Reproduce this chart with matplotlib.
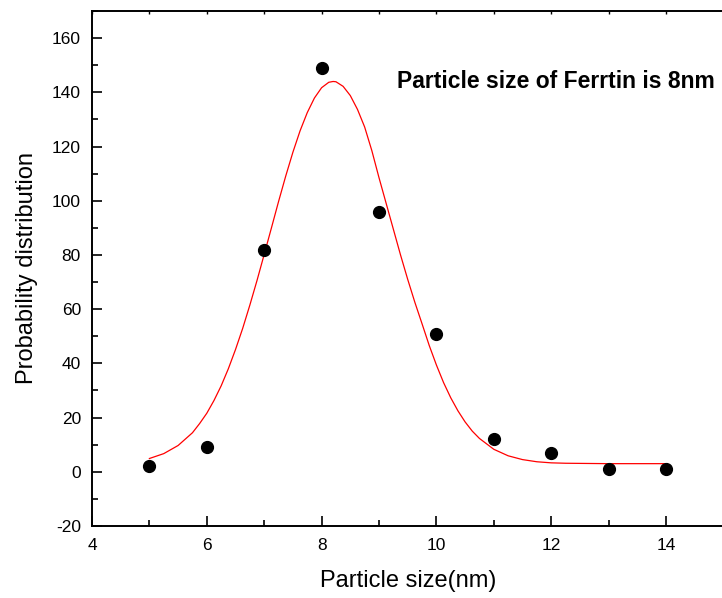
import matplotlib
matplotlib.use("Agg")
import matplotlib.pyplot as plt

plt.rcParams['font.family'] = ['Liberation Sans', 'DejaVu Sans']
plt.rcParams['axes.unicode_minus'] = False

# measured points
size_nm = [5, 6, 7, 8, 9, 10, 11, 12, 13, 14]
counts = [2, 9, 82, 149, 96, 51, 12, 7, 1, 1]

# gaussian fit curve
fit_x = [5.0, 5.25, 5.5, 5.75, 5.875, 6.0, 6.125, 6.25, 6.375, 6.5, 6.625, 6.75,
         6.875, 7.0, 7.125, 7.25, 7.375, 7.5, 7.625, 7.75, 7.875, 8.0, 8.125,
         8.2, 8.25, 8.375, 8.5, 8.625, 8.75, 8.875, 9.0, 9.125, 9.25, 9.375,
         9.5, 9.625, 9.75, 9.875, 10.0, 10.125, 10.25, 10.375, 10.5, 10.625,
         10.75, 11.0, 11.25, 11.5, 11.75, 12.0, 12.25, 12.5, 13.0, 13.5, 14.0]
fit_y = [4.9, 6.7, 9.7, 14.4, 17.8, 21.6, 26.3, 31.7, 38.0, 45.1, 52.9, 61.5,
         70.6, 80.2, 89.9, 99.7, 109.1, 117.9, 125.8, 132.5, 137.9, 141.7, 143.7,
         144.0, 143.9, 142.2, 138.8, 133.7, 127.2, 118.5, 108.5, 99.0, 89.5, 80.0,
         71.0, 62.5, 54.6, 46.6, 39.4, 32.9, 27.3, 22.5, 18.4, 15.0,
         12.3, 8.3, 5.9, 4.5, 3.7, 3.3, 3.15, 3.1, 3.0, 3.0, 3.0]

x_major = [4, 6, 8, 10, 12, 14]
x_minor = [5, 7, 9, 11, 13]

fig = plt.figure(figsize=(7.22, 5.98), dpi=100)
ax = fig.add_axes([92/722, 72/598, 11*57.4/722, 515/598])

ax.plot(fit_x, fit_y, color='red', lw=0.9)
ax.plot(size_nm, counts, 'o', color='black', ms=8.5, zorder=3)

ax.set_xlim(4, 15)
ax.set_ylim(-20, 170)
ax.set_xticks(x_major)
ax.set_xticks(x_minor, minor=True)
ax.set_yticks(range(-20, 161, 20))
ax.set_yticks(range(-10, 171, 20), minor=True)

ax.tick_params(which='major', direction='in', length=7, width=1.2, labelsize=12.5)
ax.tick_params(which='minor', direction='in', length=4.3, width=1.2)
ax.tick_params(axis='x', which='major', pad=9)
ax.tick_params(axis='y', which='major', pad=8)
for s in ['left', 'bottom', 'right']:
    ax.spines[s].set_linewidth(1.4)
ax.spines['top'].set_visible(False)

top = ax.secondary_xaxis('top')
top.set_xticks(list(range(4, 16)))
top.tick_params(direction='in', length=2, width=1, labeltop=False)
top.spines['top'].set_linewidth(1.4)

ax.set_xlabel('Particle size(nm)', fontsize=17, labelpad=12)
ax.set_ylabel('Probability distribution', fontsize=17, labelpad=10)

ax.text(9.31, 144, 'Particle size of Ferrtin is 8nm', fontsize=16.5,
        fontweight='bold', ha='left', va='center')

fig.savefig('out.png', dpi=100)
